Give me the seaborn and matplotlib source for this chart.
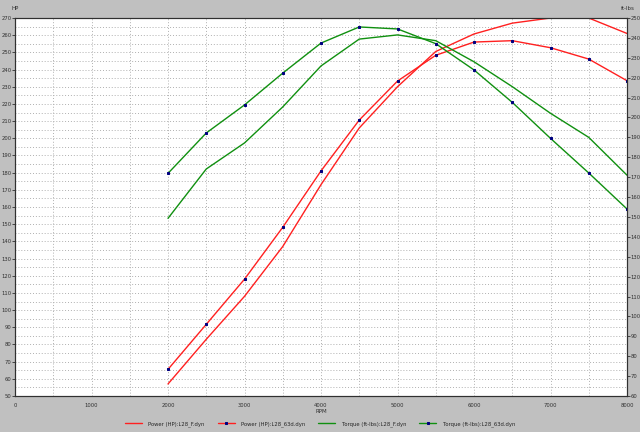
import pandas as pd
import matplotlib
matplotlib.use("Agg")
import matplotlib.pyplot as plt
import seaborn as sns
from matplotlib.ticker import MultipleLocator

# Dyno data
rpm = [2000, 2500, 3000, 3500, 4000, 4500, 5000, 5500, 6000, 6500, 7000, 7500, 8000]
hp_f = [57, 83, 108, 137, 173, 206, 230, 250.5, 260.7, 267, 270, 270, 261]
hp_63d = [65.5, 91.7, 118, 148.2, 181, 210.6, 233.3, 248.3, 256, 256.8, 252.7, 246.1, 233.5]
tq_f = [149.3, 174.1, 187.2, 205.3, 225.9, 239.4, 241.5, 238.6, 228, 215.5, 202.1, 190, 171]
tq_63d = [171.9, 192.2, 206.3, 222.3, 237.4, 245.5, 244.5, 237.1, 223.9, 207.6, 189.5, 172.1, 154]

labels = ["Power (HP):L28_F.dyn", "Power (HP):L28_63d.dyn",
          "Torque (ft-lbs):L28_F.dyn", "Torque (ft-lbs):L28_63d.dyn"]

sns.set_style("white")
plt.rcParams["font.family"] = ["DejaVu Sans"]

fig = plt.figure(figsize=(6.4, 4.32), dpi=100, facecolor="#c0c0c0")
ax = fig.add_axes([15 / 640, 1 - 396 / 432, 612 / 640, 378 / 432])
ax.set_facecolor("white")
ax2 = ax.twinx()

red = "#ff2020"
green = "#109010"
navy = "#000080"

hp = pd.DataFrame({"rpm": rpm, "f": hp_f, "d": hp_63d})
tq = pd.DataFrame({"rpm": rpm, "f": tq_f, "d": tq_63d})

sns.lineplot(data=hp, x="rpm", y="f", ax=ax, color=red, lw=1, label=labels[0], legend=False)
sns.lineplot(data=hp, x="rpm", y="d", ax=ax, color=red, lw=1, marker="s", markersize=1.6,
             markerfacecolor=navy, markeredgecolor=navy, label=labels[1], legend=False)
sns.lineplot(data=tq, x="rpm", y="f", ax=ax2, color=green, lw=1, label=labels[2], legend=False)
sns.lineplot(data=tq, x="rpm", y="d", ax=ax2, color=green, lw=1, marker="s", markersize=1.6,
             markerfacecolor=navy, markeredgecolor=navy, label=labels[3], legend=False)

ax.set_xlim(0, 8000)
ax.set_ylim(50, 270)
ax2.set_ylim(60, 250)

ax.xaxis.set_major_locator(MultipleLocator(1000))
ax.xaxis.set_minor_locator(MultipleLocator(500))
ax.yaxis.set_major_locator(MultipleLocator(10))
ax.yaxis.set_minor_locator(MultipleLocator(5))
ax2.yaxis.set_major_locator(MultipleLocator(10))

ax.grid(True, which="both", color="#b0b0b0", ls=(0, (1, 2)), lw=0.7)
ax.set_axisbelow(True)

for a in (ax, ax2):
    a.tick_params(axis="both", which="major", labelsize=3.8, length=2, width=0.6, pad=0.5,
                  colors="#303030", labelcolor="#303030")
    a.tick_params(axis="both", which="minor", length=0)
    for s in a.spines.values():
        s.set_color("#303030")
        s.set_linewidth(0.8)
ax.tick_params(axis="x", which="major", length=3, pad=2)

ax.set_xlabel("RPM", fontsize=4, labelpad=1, color="#303030")
ax.set_ylabel("")
ax2.set_ylabel("")
fig.text(11 / 640, 1 - 8 / 432, "HP", fontsize=4, color="#303030", va="center")
fig.text(621 / 640, 1 - 8 / 432, "ft-lbs", fontsize=4, color="#303030", va="center")

h1, l1 = ax.get_legend_handles_labels()
h2, l2 = ax2.get_legend_handles_labels()
fig.legend(h1 + h2, l1 + l2, loc="center", bbox_to_anchor=(0.5, 1 - 424 / 432), ncol=4,
           frameon=False, fontsize=3.8, handlelength=3.2, handletextpad=1.2,
           columnspacing=2.5, markerscale=1)

fig.savefig("out.png", dpi=100, facecolor=fig.get_facecolor())
